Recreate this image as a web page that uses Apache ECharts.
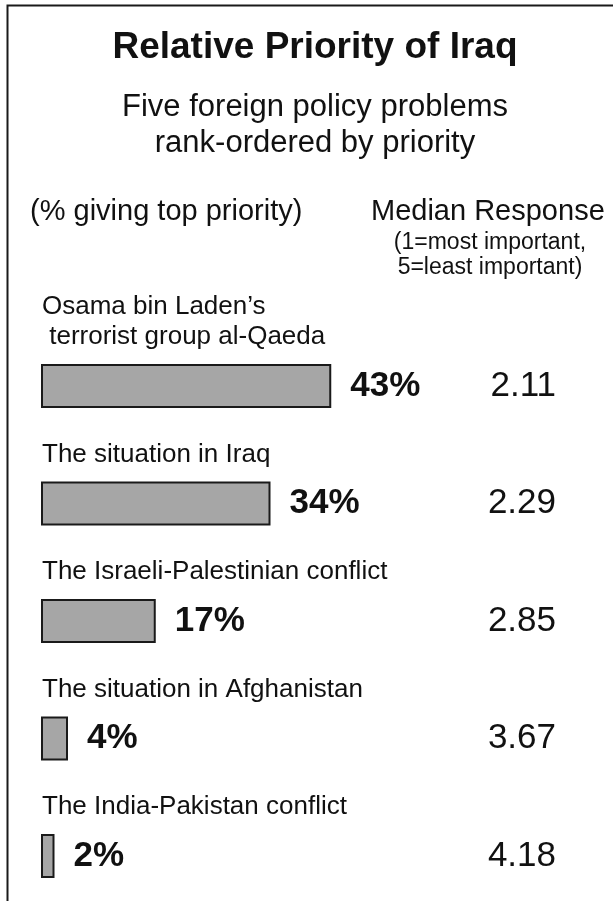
<!DOCTYPE html>
<html>
<head>
<meta charset="utf-8">
<title>Relative Priority of Iraq</title>
<script src="https://cdn.jsdelivr.net/npm/echarts@6.0.0/dist/echarts.min.js"></script>
<style>
  html, body { margin: 0; padding: 0; background: #ffffff; }
  #chart { width: 616px; height: 901px; }
</style>
</head>
<body>
<div id="chart"></div>
<script>
// Foreign policy problems, in rank order
const categories = [
  'Osama bin Laden\u2019s\n terrorist group al-Qaeda',
  'The situation in Iraq',
  'The Israeli-Palestinian conflict',
  'The situation in Afghanistan',
  'The India-Pakistan conflict'
];
// % giving top priority
const topPriorityPct = [43, 34, 17, 4, 2];
// Median response (1 = most important, 5 = least important)
const medianResponse = [2.11, 2.29, 2.85, 3.67, 4.18];

const FONT = "'Liberation Sans', Arial, Helvetica, sans-serif";
const INK = '#111111';

function text(str, x, y, size, opts) {
  opts = opts || {};
  return {
    type: 'text',
    x: x,
    y: y,
    silent: true,
    style: {
      text: str,
      fill: INK,
      font: (opts.bold ? 'bold ' : '') + size + 'px ' + FONT,
      align: opts.align || 'center',
      verticalAlign: 'middle'
    }
  };
}

const chart = echarts.init(document.getElementById('chart'), null, { renderer: 'canvas' });

chart.setOption({
  animation: false,
  backgroundColor: '#ffffff',
  graphic: [
    // open frame: top and left rules
    {
      type: 'polyline',
      silent: true,
      shape: { points: [[7.5, 901], [7.5, 5.5], [613, 5.5]] },
      style: { stroke: '#1a1a1a', lineWidth: 2, fill: null }
    },
    text('Relative Priority of Iraq', 315, 48, 37, { bold: true }),
    text('Five foreign policy problems', 315, 107, 31),
    text('rank-ordered by priority', 315, 143, 31),
    text('(% giving top priority)', 30, 212, 29, { align: 'left' }),
    text('Median Response', 371, 212, 29, { align: 'left' }),
    text('(1=most important,', 490, 243, 23),
    text('5=least important)', 490, 268, 23)
  ],
  // rows sit on the category ticks, first row at the top edge, last at the bottom edge
  grid: { left: 41, top: 386, width: 540, height: 470, containLabel: false },
  xAxis: { type: 'value', min: 0, max: 80, show: false },
  yAxis: [
    {
      type: 'category',
      data: categories,
      inverse: true,
      boundaryGap: false,
      axisLine: { show: false },
      axisTick: { show: false },
      splitLine: { show: false },
      axisLabel: {
        inside: true,
        interval: 0,
        margin: 1,
        align: 'left',
        verticalAlign: 'bottom',
        padding: [0, 0, 34, 0],
        fontFamily: FONT,
        fontSize: 26,
        lineHeight: 30,
        color: INK
      }
    },
    {
      type: 'category',
      data: categories,
      inverse: true,
      boundaryGap: false,
      position: 'right',
      axisLine: { show: false },
      axisTick: { show: false },
      splitLine: { show: false },
      axisLabel: {
        inside: true,
        interval: 0,
        margin: 25,
        align: 'right',
        verticalAlign: 'middle',
        padding: [0, 0, 8, 0],
        fontFamily: FONT,
        fontSize: 35,
        color: INK,
        formatter: function (value, index) {
          return medianResponse[index].toFixed(2);
        }
      }
    }
  ],
  series: [
    {
      name: '% giving top priority',
      type: 'bar',
      yAxisIndex: 0,
      data: topPriorityPct,
      barWidth: 44,
      itemStyle: { color: '#a6a6a6', borderColor: '#1a1a1a', borderWidth: 2 },
      label: {
        show: true,
        position: 'right',
        distance: 19,
        formatter: '{c}%',
        fontFamily: FONT,
        fontSize: 35,
        fontWeight: 'bold',
        color: INK
      }
    }
  ]
});
</script>
</body>
</html>
